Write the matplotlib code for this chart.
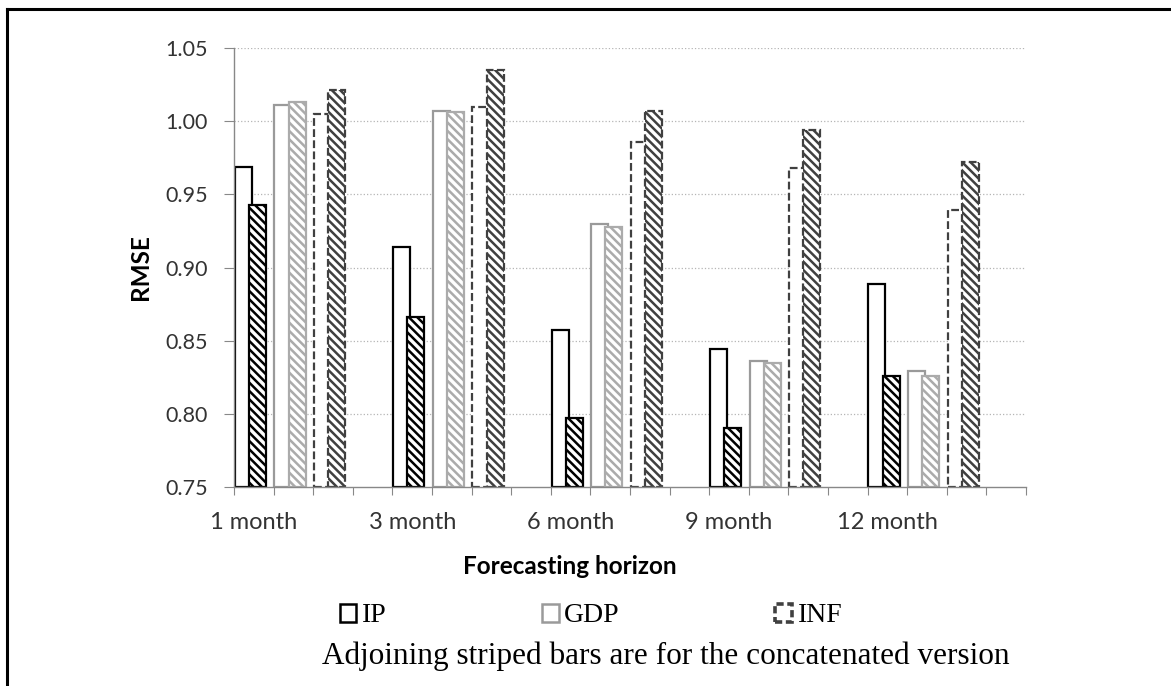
import matplotlib
matplotlib.use('Agg')
import matplotlib.pyplot as plt
import numpy as np
from matplotlib.patches import Patch
from matplotlib.lines import Line2D

# RMSE by forecasting horizon, single-series vs concatenated version
horizons = ['1 month', '3 month', '6 month', '9 month', '12 month']
ip = [0.969, 0.914, 0.857, 0.844, 0.889]
ip_concat = [0.943, 0.866, 0.797, 0.790, 0.826]
gdp = [1.011, 1.007, 0.930, 0.836, 0.829]
gdp_concat = [1.013, 1.006, 0.928, 0.835, 0.826]
inf = [1.005, 1.010, 0.986, 0.968, 0.939]
inf_concat = [1.021, 1.035, 1.007, 0.994, 0.972]
series_names = ['IP', 'GDP', 'INF']
y_ticks = [0.75, 0.80, 0.85, 0.90, 0.95, 1.00, 1.05]

plt.rcParams['hatch.linewidth'] = 1.8
sans = ['Lato', 'DejaVu Sans']
serif = ['Liberation Serif', 'DejaVu Serif']

fig = plt.figure(figsize=(11.71, 6.86), dpi=100)
ax = fig.add_axes([234 / 1171, 1 - 487 / 686, 792 / 1171, 439 / 686])

y_min, y_max = y_ticks[0], y_ticks[-1]
n_slots = 4 * len(horizons)
w = 0.43
dash = (0, (3.5, 1.5))

styles = [
    dict(color='black', ls='solid', lw=1.6),
    dict(color='#9a9a9a', ls='solid', lw=1.6),
    dict(color='#404040', ls=dash, lw=1.6),
]
hatch_colors = ['black', '#ababab', '#404040']
pairs = [(ip, ip_concat), (gdp, gdp_concat), (inf, inf_concat)]

for s, (plain, concat) in enumerate(pairs):
    st = styles[s]
    x = np.arange(len(horizons)) * 4 + s
    ax.bar(x + 0.02, np.array(plain) - y_min, w, bottom=y_min, align='edge',
           facecolor='white', edgecolor=st['color'], linestyle=st['ls'],
           linewidth=st['lw'], zorder=2)
    ax.bar(x + 0.38, np.array(concat) - y_min, w, bottom=y_min, align='edge',
           facecolor='white', edgecolor=hatch_colors[s], linestyle=st['ls'],
           linewidth=st['lw'], hatch='\\\\\\\\', zorder=3)

ax.set_xlim(0, n_slots)
ax.set_ylim(y_min, y_max)
ax.set_yticks(y_ticks)
ax.set_yticklabels(['%.2f' % v for v in y_ticks], fontsize=15.5, family=sans,
                   color='#333333')
ax.set_xticks(np.arange(n_slots + 1))
ax.set_xticklabels([])
ax.set_xticks(np.arange(len(horizons)) * 4 + 0.5, minor=True)
ax.set_xticklabels(horizons, minor=True, fontsize=17, family=sans,
                   color='#333333')
ax.tick_params(axis='y', length=7, color='#888888', pad=12)
ax.tick_params(axis='x', which='major', length=6, color='#888888')
ax.tick_params(axis='x', which='minor', length=0, pad=18)

for v in y_ticks[1:]:
    ax.axhline(v, color='#b5b5b5', lw=0.9, ls=':', zorder=1)

for side in ['top', 'right']:
    ax.spines[side].set_visible(False)
for side in ['left', 'bottom']:
    ax.spines[side].set_color('#888888')
    ax.spines[side].set_linewidth(1.0)
ax.spines['bottom'].set_zorder(4)

fig.text(140 / 1171, 1 - 267 / 686, 'RMSE', rotation=90, ha='center',
         va='center', fontsize=17.5, fontweight='bold', family=sans)
fig.text(570 / 1171, 1 - 566 / 686, 'Forecasting horizon', ha='center',
         va='center', fontsize=17.5, fontweight='bold', family=sans)

handles = [Patch(facecolor='white', edgecolor=styles[i]['color'],
                 linestyle='solid' if i < 2 else (0, (2, 1)),
                 linewidth=1.8 if i < 2 else 2.6)
           for i in range(3)]
fig.legend(handles, series_names, ncol=3, loc='center',
           bbox_to_anchor=(591 / 1171, 1 - 616 / 686), frameon=False,
           prop=dict(family=serif, size=20), handlelength=0.6,
           handleheight=0.6, handletextpad=0.2, columnspacing=5.6,
           borderpad=0)
fig.text(666 / 1171, 1 - 656 / 686,
         'Adjoining striped bars are for the concatenated version',
         ha='center', va='center', fontsize=22.5, family=serif)

# frame lines along the top and left edge
fig.add_artist(Line2D([7 / 1171, 1], [1 - 9 / 686, 1 - 9 / 686],
                      color='black', lw=2.2, transform=fig.transFigure))
fig.add_artist(Line2D([7 / 1171, 7 / 1171], [0, 1 - 9 / 686],
                      color='black', lw=2.2, transform=fig.transFigure))

fig.savefig('out.png', dpi=100)
